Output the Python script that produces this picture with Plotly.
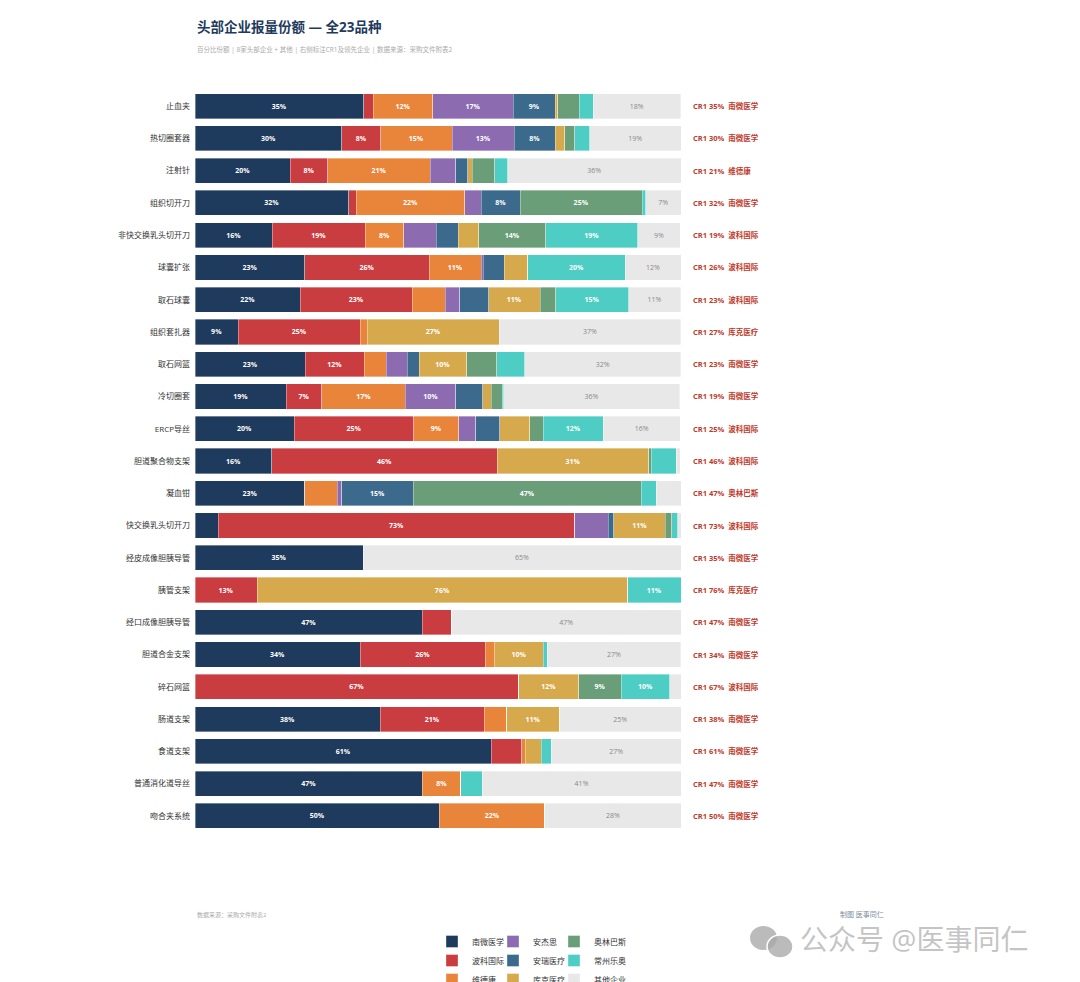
import plotly.graph_objects as go

categories = ["止血夹", "热切圈套器", "注射针", "组织切开刀", "非快交换乳头切开刀", "球囊扩张",
              "取石球囊", "组织套扎器", "取石网篮", "冷切圈套", "ERCP导丝", "胆道聚合物支架",
              "凝血钳", "快交换乳头切开刀", "经皮成像胆胰导管", "胰管支架", "经口成像胆胰导管",
              "胆道合金支架", "碎石网篮", "肠道支架", "食道支架", "普通消化道导丝", "吻合夹系统"]

companies = ["南微医学", "波科国际", "维德康", "安杰思", "安瑞医疗", "库克医疗", "奥林巴斯", "常州乐奥", "其他企业"]

nanwei   = [34.7, 30.2, 19.6, 31.6, 15.9, 22.6, 21.7, 8.9, 22.7, 18.8, 20.4, 15.8, 22.6, 4.8, 34.6, 0, 46.8, 34.0, 0, 38.1, 61.0, 46.8, 50.3]
boke     = [2.0, 8.0, 7.7, 1.6, 19.1, 25.6, 23.0, 25.1, 12.1, 7.3, 24.6, 46.4, 0, 73.3, 0, 12.8, 6.0, 25.7, 66.6, 21.4, 6.2, 0, 0]
weidekang= [12.2, 14.7, 21.1, 22.3, 8.0, 10.7, 6.8, 1.4, 4.6, 17.2, 9.3, 0, 6.7, 0, 0, 0, 0, 1.9, 0, 4.6, 0.8, 7.9, 21.7]
anjiesi  = [16.6, 12.8, 5.3, 3.4, 6.6, 0.4, 3.0, 0, 4.3, 10.4, 3.5, 0, 0.9, 6.9, 0, 0, 0, 0, 0, 0, 0, 0, 0]
anrui    = [8.6, 8.4, 2.4, 8.0, 4.6, 4.3, 5.9, 0, 2.4, 5.5, 4.9, 0, 14.7, 1.2, 0, 0, 0, 0, 0, 0, 0, 0, 0]
kuke     = [0.5, 2.0, 0.9, 0, 4.2, 4.9, 10.6, 27.2, 9.8, 1.8, 6.2, 31.2, 0, 10.6, 0, 76.2, 0, 10.1, 12.4, 10.9, 3.2, 0, 0]
olympus  = [4.5, 2.0, 4.7, 25.1, 13.8, 0, 3.2, 0, 6.2, 2.2, 2.8, 0.5, 46.9, 1.3, 0, 0, 0, 0, 8.7, 0, 0, 0, 0]
leao     = [2.8, 3.1, 2.6, 0.7, 18.9, 20.0, 15.0, 0, 5.8, 0.3, 12.3, 5.1, 3.1, 1.2, 0, 11.0, 0, 0.8, 10.0, 0, 2.1, 4.4, 0]
others   = [18.0, 18.8, 35.7, 7.3, 8.7, 11.5, 10.7, 37.3, 32.0, 36.2, 15.8, 0.8, 5.1, 0.7, 65.4, 0, 47.2, 27.4, 2.3, 25.0, 26.7, 40.9, 28.0]

series = [nanwei, boke, weidekang, anjiesi, anrui, kuke, olympus, leao, others]
colors = ["#1e3a5c", "#c93c3f", "#e8853b", "#8c6bb1", "#3b6a8c", "#d6a94c", "#6a9e78", "#4ecdc4", "#e8e8e8"]
legend_ids = ["legend", "legend", "legend", "legend2", "legend2", "legend2", "legend3", "legend3", "legend3"]

FONT = "Open Sans, Noto Sans CJK SC, sans-serif"

def lbl(v):
    return f"{int(v + 0.5)}%" if v >= 7 else ""

fig = go.Figure()
for name, vals, col, lg in zip(companies, series, colors, legend_ids):
    is_other = name == "其他企业"
    fig.add_trace(go.Bar(
        y=categories, x=vals, name=name, orientation="h",
        marker=dict(color=col, line=dict(color="rgba(255,255,255,0.6)", width=0.6)),
        text=[lbl(v) for v in vals], textposition="inside", insidetextanchor="middle",
        textangle=0,
        textfont=dict(size=7, color="#888888" if is_other else "#ffffff",
                      family=FONT, weight="normal" if is_other else "bold"),
        legend=lg, hoverinfo="x+y+name",
    ))

# CR1 annotations
annotations = []
for i, cat in enumerate(categories):
    vals = [s[i] for s in series[:-1]]
    m = max(vals)
    leader = companies[vals.index(m)]
    annotations.append(dict(
        x=1.0206, xref="paper", y=cat, yref="y", xanchor="left", yanchor="middle",
        text=f"<b>CR1 {int(m + 0.5)}%</b>  <b>{leader}</b>", showarrow=False,
        font=dict(size=7.5, color="#c0392b", family=FONT)))

# page-pixel -> paper coordinate helpers (plot area: x 195..681, y 90..832 on the page)
def py(p):
    return (832 - p) / 742

def px(p):
    return (p - 195) / 486

annotations += [
    dict(x=0, xref="paper", y=py(27), yref="paper", xanchor="left", yanchor="middle",
         text="<b>头部企业报量份额 — 全23品种</b>", showarrow=False,
         font=dict(size=13.5, color="#1e3a5c", family=FONT)),
    dict(x=0, xref="paper", y=py(50), yref="paper", xanchor="left", yanchor="middle",
         text="百分比份额 | 8家头部企业 + 其他 | 右侧标注CR1及领先企业 | 数据来源：采购文件附表2",
         showarrow=False, font=dict(size=6.5, color="#aaaaaa", family=FONT)),
    dict(x=0, xref="paper", y=py(915), yref="paper", xanchor="left", yanchor="middle",
         text="数据来源：采购文件附表2", showarrow=False,
         font=dict(size=6, color="#aaaaaa", family=FONT)),
    dict(x=px(886), xref="paper", y=py(915), yref="paper", xanchor="right", yanchor="middle",
         text="制图 医事同仁", showarrow=False,
         font=dict(size=7, color="#7a8a99", family=FONT)),
    dict(x=px(798), xref="paper", y=py(939), yref="paper", xanchor="left", yanchor="middle",
         text="公众号 @医事同仁", showarrow=False,
         font=dict(size=28, color="rgba(170,170,170,0.7)", family=FONT)),
]

shapes = [
    dict(type="circle", xref="paper", yref="paper", x0=px(750), x1=px(777), y0=py(950), y1=py(926),
         fillcolor="rgba(170,170,170,0.8)", line=dict(width=0)),
    dict(type="circle", xref="paper", yref="paper", x0=px(767), x1=px(793), y0=py(958), y1=py(935),
         fillcolor="rgba(170,170,170,0.8)", line=dict(color="white", width=1.5)),
]

leg_common = dict(orientation="v", yanchor="top", xanchor="left", bgcolor="rgba(0,0,0,0)",
                  font=dict(size=8, color="#333333", family=FONT), tracegroupgap=0,
                  traceorder="normal", itemclick=False, itemdoubleclick=False)

# the page body adds an 8px offset, so the figure is 8px smaller than the window
fig.update_layout(
    width=1072, height=974, barmode="stack", bargap=0.22,
    margin=dict(l=187, r=399, t=82, b=150, autoexpand=False),
    paper_bgcolor="white", plot_bgcolor="white",
    font=dict(family=FONT),
    showlegend=True,
    legend=dict(x=px(432), y=py(927), **leg_common),
    legend2=dict(x=px(493), y=py(927), **leg_common),
    legend3=dict(x=px(554), y=py(927), **leg_common),
    xaxis=dict(range=[0, 100], visible=False, fixedrange=True),
    yaxis=dict(autorange="reversed", showgrid=False, showline=False, ticks="",
               tickfont=dict(size=8, color="#333333", family=FONT), ticklabelstandoff=4),
    annotations=annotations, shapes=shapes,
)

fig.write_html("out.html")
